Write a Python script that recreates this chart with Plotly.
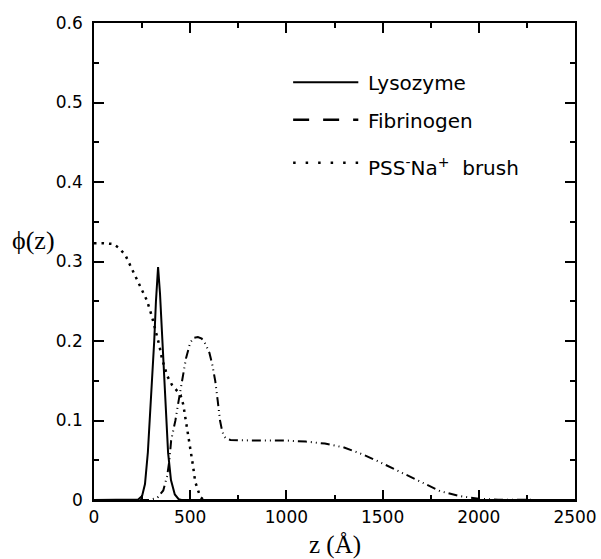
import plotly.graph_objects as go

# ---- data ----
lys_z = [0, 200, 230, 250, 265, 280, 290, 300, 313, 322, 333, 343, 355, 365, 374, 385, 400, 420, 440, 455, 2500]
lys_phi = [0, 0, 0.0005, 0.005, 0.02, 0.06, 0.10, 0.145, 0.20, 0.25, 0.293, 0.26, 0.20, 0.145, 0.10, 0.06, 0.025, 0.007, 0.001, 0, 0]

fib_z = [0, 290, 330, 360, 380, 392, 401, 423, 440, 457, 478, 500, 520, 540, 560, 580, 600, 615, 630, 643, 655,
         665, 675, 690, 710, 800, 900, 1000, 1100, 1200, 1300, 1400, 1500, 1600, 1700, 1800, 1900, 2000, 2100, 2200, 2500]
fib_phi = [0, 0, 0.003, 0.012, 0.03, 0.05, 0.075, 0.10, 0.125, 0.15, 0.178, 0.198, 0.204, 0.205, 0.203, 0.196,
           0.185, 0.17, 0.15, 0.125, 0.10, 0.088, 0.080, 0.077, 0.0755, 0.075, 0.075, 0.0748, 0.0735, 0.071, 0.066,
           0.057, 0.046, 0.034, 0.022, 0.011, 0.005, 0.0015, 0.0003, 0, 0]

pss_z = [0, 50, 100, 130, 163, 205, 241, 275, 301, 319, 340, 353, 381, 405, 431, 450, 464, 490, 503, 514, 526, 540, 552, 570]
pss_phi = [0.323, 0.323, 0.322, 0.317, 0.308, 0.287, 0.270, 0.251, 0.231, 0.214, 0.194, 0.178, 0.156, 0.145, 0.138,
           0.132, 0.120, 0.082, 0.063, 0.044, 0.023, 0.011, 0.004, 0]

legend_names = ["Lysozyme", "Fibrinogen", "PSS<sup>-</sup>Na<sup>+</sup>  brush"]
x_ticks = [0, 500, 1000, 1500, 2000, 2500]
y_ticks = [0, 0.1, 0.2, 0.3, 0.4, 0.5, 0.6]
y_ticktext = ["0", "0.1", "0.2", "0.3", "0.4", "0.5", "0.6"]

fib_dash = "9px,4px,1px,4px,1px,4px"
pss_dash = "2.5px,5px"

fig = go.Figure()
fig.add_trace(go.Scatter(x=lys_z, y=lys_phi, mode="lines", name=legend_names[0],
                         line=dict(color="black", width=2)))
fig.add_trace(go.Scatter(x=fib_z, y=fib_phi, mode="lines", name=legend_names[1],
                         line=dict(color="black", width=2, dash=fib_dash)))
fig.add_trace(go.Scatter(x=pss_z, y=pss_phi, mode="lines", name=legend_names[2],
                         line=dict(color="black", width=2.5, dash=pss_dash)))

# manual legend (paper coordinates)
leg_y = [0.876, 0.797, 0.707]
leg_text_y = [0.874, 0.795, 0.698]
leg_dash = ["solid", "16px,14px", "2.5px,10px"]
for name, yy, ty, dsh in zip(legend_names, leg_y, leg_text_y, leg_dash):
    fig.add_shape(type="line", xref="paper", yref="paper", x0=0.414, x1=0.5495, y0=yy, y1=yy,
                  line=dict(color="black", width=2 if dsh == "solid" else 2.5, dash=dsh))
    fig.add_annotation(x=0.5655, y=ty, xref="paper", yref="paper", text=name, showarrow=False,
                       xanchor="left", yanchor="middle",
                       font=dict(family="DejaVu Sans", size=20, color="black"))

# axis titles
fig.add_annotation(x=-0.126, y=0.545, xref="paper", yref="paper", text="\u03d5(z)", showarrow=False,
                   xanchor="center", yanchor="middle",
                   font=dict(family="Liberation Serif", size=26, color="black"))
fig.add_annotation(x=0.5, y=-0.094, xref="paper", yref="paper", text="z (\u00c5)", showarrow=False,
                   xanchor="center", yanchor="middle",
                   font=dict(family="Liberation Serif", size=25, color="black"))

axis_common = dict(showline=True, linecolor="black", linewidth=1.5, mirror="ticks",
                   ticks="inside", ticklen=10, tickwidth=1.5, tickcolor="black",
                   showgrid=False, zeroline=False, automargin=False,
                   tickfont=dict(family="DejaVu Sans", size=17, color="black"))

fig.update_xaxes(range=[0, 2500], tickvals=x_ticks,
                 minor=dict(ticks="inside", ticklen=5, tickwidth=1.5, tickcolor="black", dtick=250, tick0=0,
                            showgrid=False),
                 ticklabelstandoff=1, **axis_common)
fig.update_yaxes(range=[0, 0.6], tickvals=y_ticks, ticktext=y_ticktext,
                 minor=dict(ticks="inside", ticklen=5, tickwidth=1.5, tickcolor="black", dtick=0.05, tick0=0,
                            showgrid=False),
                 ticklabelstandoff=6, **axis_common)

fig.update_layout(width=601, height=559, margin=dict(l=94, r=26, t=23, b=59),
                  plot_bgcolor="white", paper_bgcolor="white", showlegend=False)

fig.write_html("out.html", config={"displayModeBar": False},
               post_script="document.body.style.margin='0';document.body.style.padding='0';document.body.style.overflow='hidden';")
